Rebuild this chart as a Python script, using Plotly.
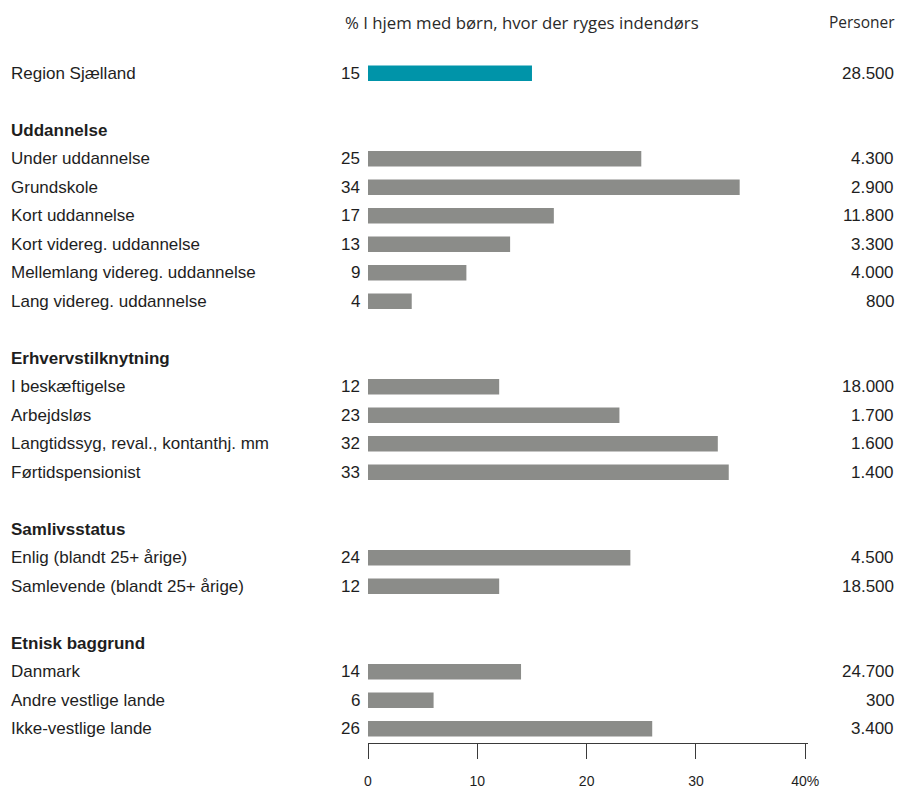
import plotly.graph_objects as go

# Groups of rows: (heading, labels, percent, persons)
total_label = "Region Sjælland"
total_pct = 15
total_persons = "28.500"

groups = ["Uddannelse", "Erhvervstilknytning", "Samlivsstatus", "Etnisk baggrund"]

edu_labels = ["Under uddannelse", "Grundskole", "Kort uddannelse",
              "Kort videreg. uddannelse", "Mellemlang videreg. uddannelse",
              "Lang videreg. uddannelse"]
edu_pct = [25, 34, 17, 13, 9, 4]
edu_persons = ["4.300", "2.900", "11.800", "3.300", "4.000", "800"]

job_labels = ["I beskæftigelse", "Arbejdsløs", "Langtidssyg, reval., kontanthj. mm",
              "Førtidspensionist"]
job_pct = [12, 23, 32, 33]
job_persons = ["18.000", "1.700", "1.600", "1.400"]

civ_labels = ["Enlig (blandt 25+ årige)", "Samlevende (blandt 25+ årige)"]
civ_pct = [24, 12]
civ_persons = ["4.500", "18.500"]

eth_labels = ["Danmark", "Andre vestlige lande", "Ikke-vestlige lande"]
eth_pct = [14, 6, 26]
eth_persons = ["24.700", "300", "3.400"]

tick_vals = [0, 10, 20, 30, 40]
tick_text = ["0", "10", "20", "30", "40%"]

header_pct = "% I hjem med børn, hvor der ryges indendørs"
header_persons = "Personer"

TEAL = "#0094a9"
GREY = "#8b8c89"
TEXT = "#1e1e1e"
FONT = "Liberation Sans, Arial, sans-serif"
HFONT = "Open Sans, sans-serif"
FS = 17

# Lay out rows: total, blank, then each group heading followed by its rows
rows = []  # (row_index, label, pct, persons, kind)
r = 0
rows.append((r, total_label, total_pct, total_persons, "total"))
r += 2
for head, labs, pcts, pers in zip(
        groups,
        [edu_labels, job_labels, civ_labels, eth_labels],
        [edu_pct, job_pct, civ_pct, eth_pct],
        [edu_persons, job_persons, civ_persons, eth_persons]):
    rows.append((r, head, None, None, "head"))
    r += 1
    for l, p, n in zip(labs, pcts, pers):
        rows.append((r, l, p, n, "item"))
        r += 1
    r += 1
last_row = r - 2

bar_rows = [x for x in rows if x[4] != "head"]

fig = go.Figure(go.Bar(
    x=[x[2] for x in bar_rows],
    y=[x[0] for x in bar_rows],
    orientation="h",
    width=0.55,
    marker=dict(color=[TEAL if x[4] == "total" else GREY for x in bar_rows],
                line=dict(width=0)),
    hoverinfo="skip",
))

L, R = 368, 808
pw = R - L
ann = []
for idx, label, pct, pers, kind in rows:
    ann.append(dict(x=(9 - L) / pw, xref="paper", y=idx, yref="y",
                    text=f"<b>{label}</b>" if kind == "head" else label,
                    xanchor="left", yanchor="middle", showarrow=False,
                    font=dict(family=FONT, size=FS, color=TEXT)))
    if kind != "head":
        ann.append(dict(x=0, xref="x", y=idx, yref="y", text=str(pct),
                        xanchor="right", yanchor="middle", showarrow=False,
                        xshift=-6, font=dict(family=FONT, size=FS, color=TEXT)))
        ann.append(dict(x=(896 - L) / pw, xref="paper", y=idx, yref="y", text=pers,
                        xanchor="right", yanchor="middle", showarrow=False,
                        font=dict(family=FONT, size=FS, color=TEXT)))

row_px = 28.52
top_px = 73 - row_px * 0.5
bottom_px = 73 + row_px * (last_row + 0.5)
plot_h = bottom_px - top_px
head_y = 1 + (top_px - 22) / plot_h

ann.append(dict(x=(522 - L) / pw, xref="paper", y=head_y, yref="paper", text=header_pct,
                xanchor="center", yanchor="middle", showarrow=False,
                font=dict(family=HFONT, size=16.8, color="#2a2a2a")))
ann.append(dict(x=(897 - L) / pw, xref="paper", y=head_y, yref="paper", text=header_persons,
                xanchor="right", yanchor="middle", showarrow=False,
                font=dict(family=HFONT, size=15.5, color="#2a2a2a")))

fig.update_layout(
    width=898, height=789,
    margin=dict(l=L, r=898 - R, t=top_px, b=789 - bottom_px, pad=0),
    plot_bgcolor="white", paper_bgcolor="white",
    showlegend=False,
    annotations=ann,
    xaxis=dict(range=[0, 40.25], tickvals=tick_vals, ticktext=tick_text,
               showgrid=False, zeroline=False, showline=True, automargin=False,
               linecolor="#3a3a3a", linewidth=1,
               ticks="outside", ticklen=15, tickcolor="#3a3a3a", tickwidth=1,
               ticklabelstandoff=10,
               tickfont=dict(family=FONT, size=14, color=TEXT)),
    yaxis=dict(range=[last_row + 0.5, -0.5], showticklabels=False, automargin=False,
               showgrid=False, zeroline=False, showline=False, ticks=""),
)

fig.write_html("out.html")
